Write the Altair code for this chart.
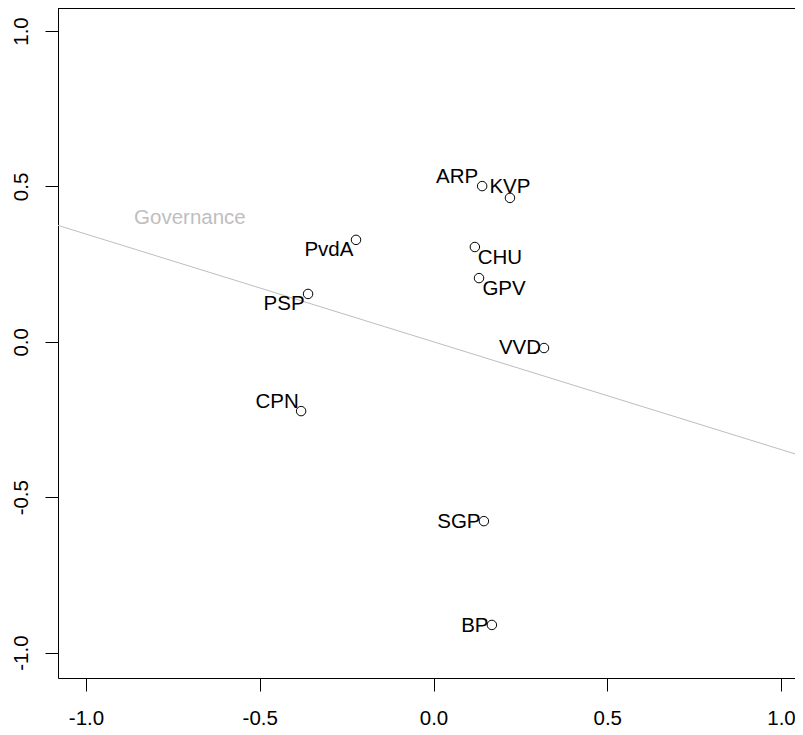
import altair as alt
import pandas as pd

# Party positions (circles)
parties = ["ARP", "KVP", "PvdA", "CHU", "GPV", "PSP", "VVD", "CPN", "SGP", "BP"]
px = [0.140, 0.220, -0.223, 0.119, 0.131, -0.361, 0.318, -0.381, 0.145, 0.168]
py = [0.501, 0.463, 0.328, 0.305, 0.205, 0.154, -0.020, -0.223, -0.577, -0.911]

# Label anchor positions (text centres, after overlap adjustment)
lx = [0.068, 0.220, -0.301, 0.191, 0.203, -0.430, 0.249, -0.450, 0.073, 0.119]
ly = [0.530, 0.498, 0.295, 0.270, 0.170, 0.122, -0.020, -0.194, -0.580, -0.914]

# Governance direction line and its label
gov_x = [-1.20, 1.20]
gov_y = [0.416, -0.416]
gov_label_x = [-0.701]
gov_label_y = [0.398]
gov_label = ["Governance"]

ticks = [-1.0, -0.5, 0.0, 0.5, 1.0]

FONT = "Liberation Sans"
FS = 20.5
W, H = 737, 670

xs = alt.Scale(domain=[-1.0806, 1.0403], nice=False, zero=False)
ys = alt.Scale(domain=[-1.0817, 1.0740], nice=False, zero=False)

lab_expr = "datum.value < 0 ? '-' + format(abs(datum.value), '.1f') : format(datum.value, '.1f')"

xaxis = alt.Axis(values=ticks, labelExpr=lab_expr, title=None, grid=False,
                 domainColor="black", domainWidth=1, tickColor="black", tickWidth=1,
                 tickSize=13, labelFont=FONT, labelFontSize=FS, labelColor="black",
                 labelPadding=17, labelFlush=False, labelOverlap=False)
yaxis = alt.Axis(values=ticks, labelExpr=lab_expr, title=None, grid=False,
                 domainColor="black", domainWidth=1, tickColor="black", tickWidth=1,
                 tickSize=13, labelFont=FONT, labelFontSize=FS, labelColor="black",
                 labelPadding=18, labelAngle=270, labelAlign="center",
                 labelBaseline="alphabetic", labelFlush=False, labelOverlap=False)

pts = pd.DataFrame({"party": parties, "x": px, "y": py, "lx": lx, "ly": ly})
line_df = pd.DataFrame({"x": gov_x, "y": gov_y})
gl_df = pd.DataFrame({"x": gov_label_x, "y": gov_label_y, "t": gov_label})

line = alt.Chart(line_df).mark_line(color="#bebebe", strokeWidth=1, clip=True).encode(
    x=alt.X("x:Q", scale=xs, axis=xaxis),
    y=alt.Y("y:Q", scale=ys, axis=yaxis),
)

gov_text = alt.Chart(gl_df).mark_text(font=FONT, fontSize=FS, color="#bebebe",
                                      align="center", baseline="middle").encode(
    x=alt.X("x:Q", scale=xs), y=alt.Y("y:Q", scale=ys), text="t:N")

circles = alt.Chart(pts).mark_point(shape="circle", size=90, filled=False,
                                    color="black", strokeWidth=1, opacity=1).encode(
    x=alt.X("x:Q", scale=xs), y=alt.Y("y:Q", scale=ys))

labels = alt.Chart(pts).mark_text(font=FONT, fontSize=FS, color="black",
                                  align="center", baseline="middle").encode(
    x=alt.X("lx:Q", scale=xs), y=alt.Y("ly:Q", scale=ys), text="party:N")

top_border = alt.Chart(pd.DataFrame({"a": [0]})).mark_rule(color="black", strokeWidth=1).encode(
    x=alt.value(0), x2=alt.value(W), y=alt.value(0.5))

chart = alt.layer(line, gov_text, circles, labels, top_border).properties(
    width=W, height=H,
    autosize=alt.AutoSizeParams(type="none"),
    padding={"left": 50, "top": 0, "right": 0, "bottom": 49},
    background="white",
).configure_view(strokeWidth=0)

chart.save("out.html", embed_options={"renderer": "svg", "actions": False})
